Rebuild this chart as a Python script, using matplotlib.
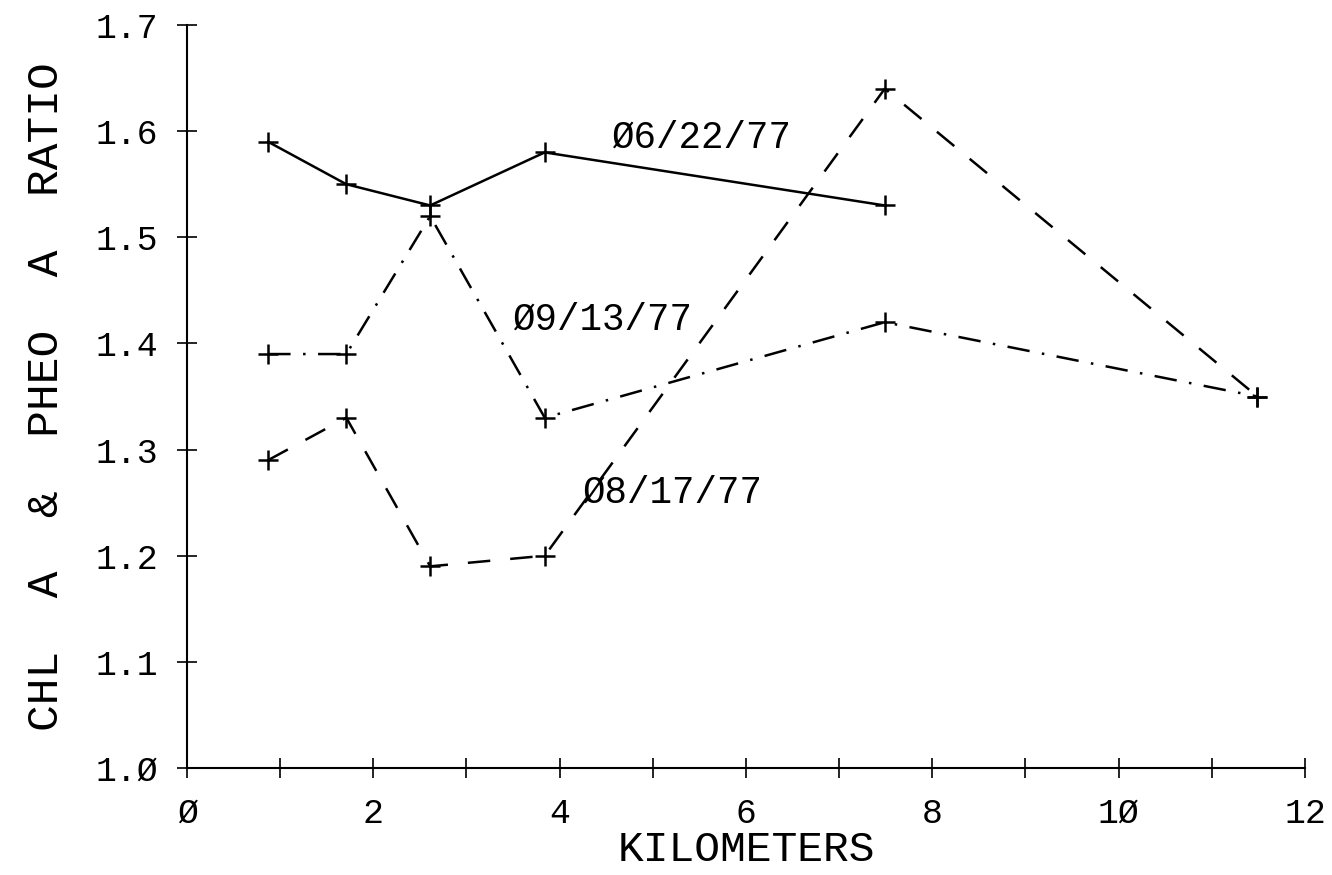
import matplotlib
matplotlib.use('Agg')
import matplotlib.pyplot as plt

# station distances (km) and chl a / pheo a ratios per cruise date
km = [0.87, 1.71, 2.61, 3.84, 7.49, 11.49]
jun22 = [1.59, 1.55, 1.53, 1.58, 1.53]
sep13 = [1.39, 1.39, 1.52, 1.33, 1.42, 1.35]
aug17 = [1.29, 1.33, 1.19, 1.20, 1.64, 1.35]

x_ticks = list(range(0, 13))
x_ticklabels = ['\u00d8', '', '2', '', '4', '', '6', '', '8', '', '1\u00d8', '', '12']
y_ticks = [1.0, 1.1, 1.2, 1.3, 1.4, 1.5, 1.6, 1.7]
y_ticklabels = ['1.\u00d8', '1.1', '1.2', '1.3', '1.4', '1.5', '1.6', '1.7']

plt.rcParams['font.family'] = ['Liberation Mono', 'DejaVu Sans Mono']

fig = plt.figure(figsize=(13.32, 8.75), dpi=100)
ax = fig.add_axes([0.1404, 0.1223, 0.8393, 0.8491])

lw = 1.8
ax.plot(km[:5], jun22, color='k', lw=lw, linestyle='-',
        marker='+', markersize=14, markeredgewidth=1.8)
ax.plot(km, sep13, color='k', lw=lw, linestyle=(0, (9, 5, 1, 5)),
        marker='+', markersize=14, markeredgewidth=1.8)
ax.plot(km, aug17, color='k', lw=lw, linestyle=(0, (9, 8)),
        marker='+', markersize=14, markeredgewidth=1.8)

# date labels
ax.text(4.56, 1.594, '\u00d86/22/77', fontsize=27, va='center', ha='left')
ax.text(3.50, 1.422, '\u00d89/13/77', fontsize=27, va='center', ha='left')
ax.text(4.25, 1.259, '\u00d88/17/77', fontsize=27, va='center', ha='left')

ax.set_xlim(0, 12)
ax.set_ylim(1.0, 1.7)
ax.spines['top'].set_visible(False)
ax.spines['right'].set_visible(False)
ax.spines['left'].set_linewidth(1.5)
ax.spines['bottom'].set_linewidth(1.5)

ax.set_xticks(x_ticks)
ax.set_xticklabels(x_ticklabels, fontsize=25)
ax.set_yticks(y_ticks)
ax.set_yticklabels(y_ticklabels, fontsize=25)
ax.tick_params(direction='inout', length=14, width=1.2)
ax.tick_params(axis='x', pad=14)
ax.tick_params(axis='y', pad=14)

ax.set_xlabel('KILOMETERS', fontsize=31, labelpad=0)
ax.set_ylabel('CHL  A  &  PHEO  A  RATIO', fontsize=32, labelpad=20)

fig.savefig('out.png', dpi=100, facecolor='white')
